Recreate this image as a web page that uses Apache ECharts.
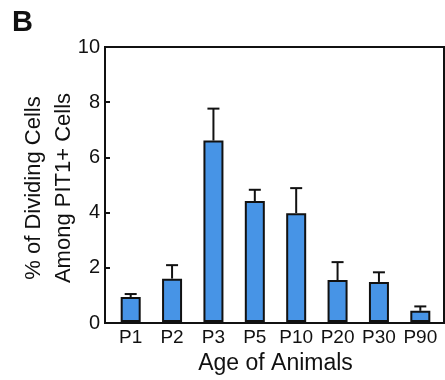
<!DOCTYPE html>
<html>
<head>
<meta charset="utf-8">
<script src="https://cdn.jsdelivr.net/npm/echarts@6/dist/echarts.min.js"></script>
<style>
  html, body { margin: 0; padding: 0; background: #fff; }
  #main { width: 445px; height: 380px; }
</style>
</head>
<body>
<div id="main"></div>
<script>
// data
const ages = ['P1', 'P2', 'P3', 'P5', 'P10', 'P20', 'P30', 'P90'];
const dividing = [0.91, 1.58, 6.6, 4.4, 3.96, 1.53, 1.46, 0.41];
const errUp = [0.11, 0.49, 1.16, 0.41, 0.91, 0.65, 0.35, 0.16];
const yTicks = [0, 2, 4, 6, 8, 10];

const FONT = '"Liberation Sans", Arial, sans-serif';
const INK = '#111';

let myChart = echarts.init(document.getElementById('main'), null, { renderer: 'canvas' });

let option = {
  animation: false,
  backgroundColor: '#fff',
  textStyle: { fontFamily: FONT },
  grid: [
    // frame + y axis
    { left: 105, top: 47, width: 339, height: 276, show: true, borderColor: INK, borderWidth: 2, backgroundColor: 'transparent' },
    // bars, slightly inset like the original
    { left: 110, top: 47, width: 331, height: 276 }
  ],
  xAxis: [
    { gridIndex: 0, type: 'value', show: false, min: 0, max: 1 },
    {
      gridIndex: 1,
      type: 'category',
      data: ages,
      axisLine: { show: false },
      axisTick: { show: false },
      axisLabel: { color: INK, fontSize: 19, margin: 6, interval: 0, fontFamily: FONT },
      name: 'Age of Animals',
      nameLocation: 'middle',
      nameGap: 26,
      nameTextStyle: { color: INK, fontSize: 23, fontFamily: FONT }
    }
  ],
  yAxis: [
    {
      gridIndex: 0,
      type: 'value',
      min: yTicks[0],
      max: yTicks[yTicks.length - 1],
      interval: 2,
      axisLine: { show: true, lineStyle: { color: INK, width: 2 } },
      axisTick: { show: true, inside: true, length: 5, lineStyle: { color: INK, width: 2 } },
      axisLabel: { color: INK, fontSize: 20, margin: 5, fontFamily: FONT },
      splitLine: { show: false }
    },
    { gridIndex: 1, type: 'value', min: 0, max: 10, show: false }
  ],
  graphic: [
    {
      type: 'text', left: 12, top: 8,
      style: { text: 'B', font: 'bold 29px ' + FONT, fill: INK }
    },
    {
      type: 'text', x: 34, y: 188, rotation: Math.PI / 2,
      style: { text: '% of Dividing Cells', font: '22px ' + FONT, fill: INK, align: 'center', verticalAlign: 'middle' }
    },
    {
      type: 'text', x: 64, y: 188, rotation: Math.PI / 2,
      style: { text: 'Among PIT1+ Cells', font: '22px ' + FONT, fill: INK, align: 'center', verticalAlign: 'middle' }
    }
  ],
  series: [
    {
      type: 'bar',
      xAxisIndex: 1,
      yAxisIndex: 1,
      data: dividing,
      barWidth: 20,
      itemStyle: { color: '#4794e6', borderColor: INK, borderWidth: 2 },
      z: 2
    },
    {
      type: 'custom',
      xAxisIndex: 1,
      yAxisIndex: 1,
      data: dividing.map((v, i) => [i, v, v + errUp[i]]),
      z: 1,
      renderItem: function (params, api) {
        const base = api.coord([api.value(0), api.value(1)]);
        const top = api.coord([api.value(0), api.value(2)]);
        const half = 6;
        return {
          type: 'group',
          children: [
            { type: 'line', shape: { x1: base[0], y1: base[1], x2: top[0], y2: top[1] }, style: { stroke: INK, lineWidth: 2 } },
            { type: 'line', shape: { x1: top[0] - half, y1: top[1], x2: top[0] + half, y2: top[1] }, style: { stroke: INK, lineWidth: 2 } }
          ]
        };
      }
    }
  ]
};

myChart.setOption(option);
</script>
</body>
</html>
